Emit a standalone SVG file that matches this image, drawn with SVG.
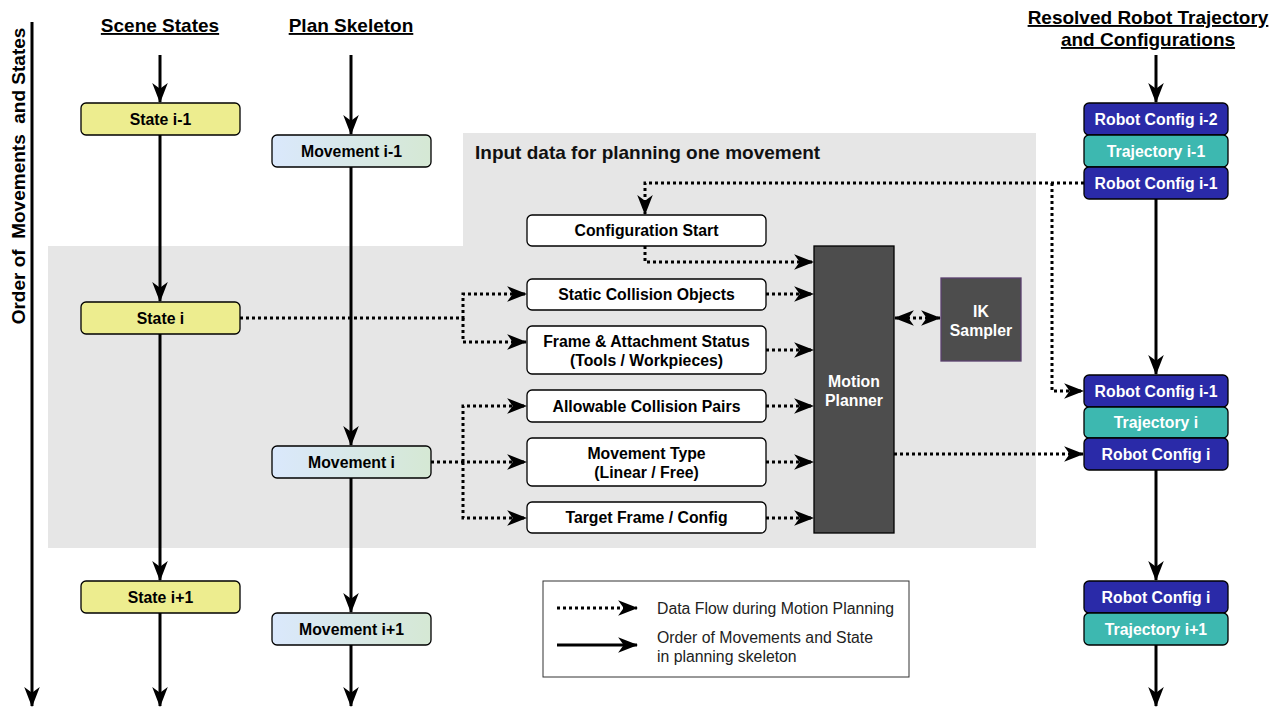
<svg xmlns="http://www.w3.org/2000/svg" width="1279" height="709" viewBox="0 0 1279 709">
  <defs>
    <linearGradient id="movFill" x1="0" y1="0" x2="1" y2="0">
      <stop offset="0" stop-color="#dae8fc"/>
      <stop offset="1" stop-color="#d5e8d4"/>
    </linearGradient>
    <marker id="arrow" markerUnits="userSpaceOnUse" markerWidth="20" markerHeight="16" viewBox="0 0 18 14" refX="17" refY="7" orient="auto-start-reverse">
      <path d="M0,0 L18,7 L0,14 L5,7 Z" fill="#000"/>
    </marker>
  </defs>
  <style>
    .hdr { font-family: "Liberation Sans", Arial, sans-serif; font-weight: bold; font-size: 19px; text-decoration: underline; text-anchor: middle; }
    .lbl { font-family: "Liberation Sans", Arial, sans-serif; font-weight: bold; font-size: 15.8px; text-anchor: middle; dominant-baseline: central; }
    .wlbl { font-family: "Liberation Sans", Arial, sans-serif; font-weight: bold; font-size: 15.8px; text-anchor: middle; dominant-baseline: central; fill: #fff; }
    .leg { font-family: "Liberation Sans", Arial, sans-serif; font-size: 15.8px; fill: #222; }
    .state { fill: #eded8f; stroke: #000; stroke-width: 1.3; }
    .mov { fill: url(#movFill); stroke: #000; stroke-width: 1.3; }
    .input { fill: #fff; stroke: #000; stroke-width: 1.3; }
    .cfg { fill: #2a2aa8; stroke: #000; stroke-width: 1.3; }
    .traj { fill: #3db8b0; stroke: #000; stroke-width: 1.3; }
    .dark { fill: #4d4d4d; }
    .solid { fill: none; stroke: #000; stroke-width: 3; }
    .dot { fill: none; stroke: #000; stroke-width: 3; stroke-dasharray: 3 3; }
  </style>

  <rect width="1279" height="709" fill="#fff"/>

  <!-- shaded region: input data for one movement -->
  <g id="input-region">
    <polygon points="463,133 1036,133 1036,548 48,548 48,246 463,246" fill="#e6e6e6"/>
    <text x="475" y="159" font-family="Liberation Sans, Arial, sans-serif" font-weight="bold" font-size="19" fill="#111">Input data for planning one movement</text>
  </g>

  <!-- column headers -->
  <g id="headers">
    <text class="hdr" x="160" y="32">Scene States</text>
    <text class="hdr" x="351" y="32">Plan Skeleton</text>
    <text class="hdr" x="1148" y="24">Resolved Robot Trajectory</text>
    <text class="hdr" x="1148" y="46">and Configurations</text>
  </g>

  <!-- ordering axis -->
  <g id="axis">
    <line class="solid" x1="32" y1="22" x2="32" y2="706" marker-end="url(#arrow)"/>
    <text x="18" y="176" transform="rotate(-90 18 176)" font-family="Liberation Sans, Arial, sans-serif" font-weight="bold" font-size="19" text-anchor="middle" dominant-baseline="central" xml:space="preserve">Order of  Movements  and States</text>
  </g>

  <g id="connectors">
    <!-- scene state sequence -->
    <line class="solid" x1="160" y1="55" x2="160" y2="102" marker-end="url(#arrow)"/>
    <line class="solid" x1="160" y1="135" x2="160" y2="301" marker-end="url(#arrow)"/>
    <line class="solid" x1="160" y1="334" x2="160" y2="580" marker-end="url(#arrow)"/>
    <line class="solid" x1="160" y1="613" x2="160" y2="706" marker-end="url(#arrow)"/>
    <!-- plan skeleton sequence -->
    <line class="solid" x1="351" y1="55" x2="351" y2="134" marker-end="url(#arrow)"/>
    <line class="solid" x1="351" y1="167" x2="351" y2="445" marker-end="url(#arrow)"/>
    <line class="solid" x1="351" y1="478" x2="351" y2="612" marker-end="url(#arrow)"/>
    <line class="solid" x1="351" y1="645" x2="351" y2="706" marker-end="url(#arrow)"/>
    <!-- resolved trajectory sequence -->
    <line class="solid" x1="1156" y1="55" x2="1156" y2="102" marker-end="url(#arrow)"/>
    <line class="solid" x1="1156" y1="199" x2="1156" y2="374" marker-end="url(#arrow)"/>
    <line class="solid" x1="1156" y1="470" x2="1156" y2="580" marker-end="url(#arrow)"/>
    <line class="solid" x1="1156" y1="645" x2="1156" y2="706" marker-end="url(#arrow)"/>

    <!-- data flow -->
    <polyline class="dot" points="1084,183 645,183 645,214" marker-end="url(#arrow)"/>
    <polyline class="dot" points="1052,183 1052,391 1083,391" marker-end="url(#arrow)"/>
    <polyline class="dot" points="645,246 645,262 813,262" marker-end="url(#arrow)"/>
    <polyline class="dot" points="240,318 463,318 463,294 526,294" marker-end="url(#arrow)"/>
    <polyline class="dot" points="463,318 463,342 526,342" marker-end="url(#arrow)"/>
    <polyline class="dot" points="431,462 526,462" marker-end="url(#arrow)"/>
    <polyline class="dot" points="463,462 463,406 526,406" marker-end="url(#arrow)"/>
    <polyline class="dot" points="463,462 463,518 526,518" marker-end="url(#arrow)"/>
    <line class="dot" x1="766" y1="294" x2="813" y2="294" marker-end="url(#arrow)"/>
    <line class="dot" x1="766" y1="350" x2="813" y2="350" marker-end="url(#arrow)"/>
    <line class="dot" x1="766" y1="406" x2="813" y2="406" marker-end="url(#arrow)"/>
    <line class="dot" x1="766" y1="462" x2="813" y2="462" marker-end="url(#arrow)"/>
    <line class="dot" x1="766" y1="518" x2="813" y2="518" marker-end="url(#arrow)"/>
    <line class="dot" x1="895" y1="318" x2="940" y2="318" marker-start="url(#arrow)" marker-end="url(#arrow)"/>
    <line class="dot" x1="894" y1="454" x2="1083" y2="454" marker-end="url(#arrow)"/>
  </g>

  <!-- scene states -->
  <g id="state-prev"><rect class="state" x="81" y="103" width="159" height="32" rx="5"/><text class="lbl" x="160.5" y="119">State i-1</text></g>
  <g id="state-cur"><rect class="state" x="81" y="302" width="159" height="32" rx="5"/><text class="lbl" x="160.5" y="318">State i</text></g>
  <g id="state-next"><rect class="state" x="81" y="581" width="159" height="32" rx="5"/><text class="lbl" x="160.5" y="597">State i+1</text></g>

  <!-- plan skeleton movements -->
  <g id="move-prev"><rect class="mov" x="272" y="135" width="159" height="32" rx="5"/><text class="lbl" x="351.5" y="151">Movement i-1</text></g>
  <g id="move-cur"><rect class="mov" x="272" y="446" width="159" height="32" rx="5"/><text class="lbl" x="351.5" y="462">Movement i</text></g>
  <g id="move-next"><rect class="mov" x="272" y="613" width="159" height="32" rx="5"/><text class="lbl" x="351.5" y="629">Movement i+1</text></g>

  <!-- planner inputs -->
  <g id="config-start"><rect class="input" x="527" y="215" width="239" height="31" rx="5"/><text class="lbl" x="646.5" y="230.5">Configuration Start</text></g>
  <g id="static-collision"><rect class="input" x="527" y="279" width="239" height="31" rx="5"/><text class="lbl" x="646.5" y="294.5">Static Collision Objects</text></g>
  <g id="frame-attachment"><rect class="input" x="527" y="326" width="239" height="48" rx="5"/><text class="lbl" x="646.5" y="341">Frame &amp; Attachment Status</text><text class="lbl" x="646.5" y="360">(Tools / Workpieces)</text></g>
  <g id="allowable-pairs"><rect class="input" x="527" y="390" width="239" height="32" rx="5"/><text class="lbl" x="646.5" y="406">Allowable Collision Pairs</text></g>
  <g id="movement-type"><rect class="input" x="527" y="438" width="239" height="48" rx="5"/><text class="lbl" x="646.5" y="453">Movement Type</text><text class="lbl" x="646.5" y="472">(Linear / Free)</text></g>
  <g id="target-frame"><rect class="input" x="527" y="502" width="239" height="31" rx="5"/><text class="lbl" x="646.5" y="517.5">Target Frame / Config</text></g>

  <!-- planner and sampler -->
  <g id="motion-planner"><rect class="dark" x="814" y="246" width="80" height="287" stroke="#000" stroke-width="1.3"/><text class="wlbl" x="854" y="381">Motion</text><text class="wlbl" x="854" y="400">Planner</text></g>
  <g id="ik-sampler"><rect class="dark" x="941" y="278" width="80" height="83" stroke="#5a3f6e" stroke-width="1.3"/><text class="wlbl" x="981" y="311">IK</text><text class="wlbl" x="981" y="330">Sampler</text></g>

  <!-- resolved trajectory -->
  <g id="cfg-i-2"><rect class="cfg" x="1084" y="103" width="144" height="32" rx="5"/><text class="wlbl" x="1156" y="119">Robot Config i-2</text></g>
  <g id="traj-i-1"><rect class="traj" x="1084" y="135" width="144" height="32" rx="5"/><text class="wlbl" x="1156" y="151">Trajectory i-1</text></g>
  <g id="cfg-i-1-top"><rect class="cfg" x="1084" y="167" width="144" height="32" rx="5"/><text class="wlbl" x="1156" y="183">Robot Config i-1</text></g>
  <g id="cfg-i-1-mid"><rect class="cfg" x="1084" y="375" width="144" height="32" rx="5"/><text class="wlbl" x="1156" y="391">Robot Config i-1</text></g>
  <g id="traj-i"><rect class="traj" x="1084" y="407" width="144" height="31" rx="5"/><text class="wlbl" x="1156" y="422.5">Trajectory i</text></g>
  <g id="cfg-i-mid"><rect class="cfg" x="1084" y="438" width="144" height="32" rx="5"/><text class="wlbl" x="1156" y="454">Robot Config i</text></g>
  <g id="cfg-i-bot"><rect class="cfg" x="1084" y="581" width="144" height="32" rx="5"/><text class="wlbl" x="1156" y="597">Robot Config i</text></g>
  <g id="traj-i+1"><rect class="traj" x="1084" y="613" width="144" height="32" rx="5"/><text class="wlbl" x="1156" y="629">Trajectory i+1</text></g>

  <!-- legend -->
  <g id="legend">
    <rect x="543" y="581" width="366" height="96" fill="#fff" stroke="#333" stroke-width="1"/>
    <line class="dot" x1="557" y1="608" x2="637" y2="608" marker-end="url(#arrow)"/>
    <text class="leg" x="657" y="614">Data Flow during Motion Planning</text>
    <line class="solid" x1="557" y1="645" x2="637" y2="645" marker-end="url(#arrow)"/>
    <text class="leg" x="657" y="643">Order of Movements and State</text>
    <text class="leg" x="657" y="662">in planning skeleton</text>
  </g>
</svg>
